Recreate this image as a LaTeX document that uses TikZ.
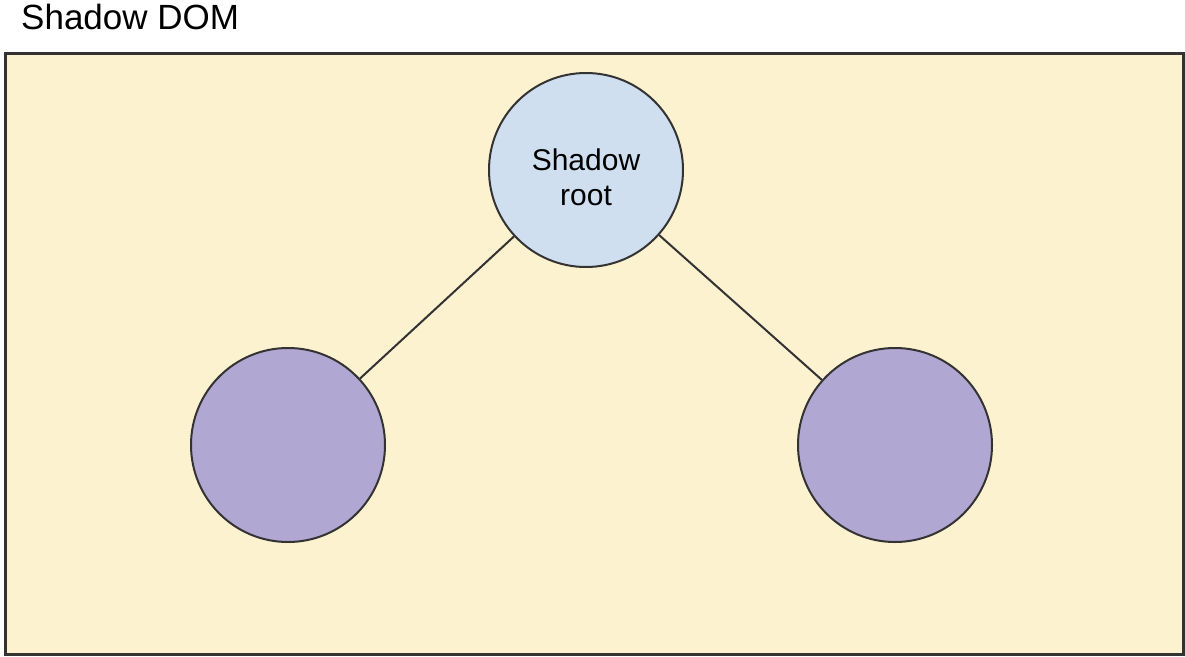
\documentclass[tikz,border=0pt]{standalone}
\usepackage{fontspec}
\setmainfont{Liberation Sans}
\definecolor{panel}{HTML}{FDF2D0}
\definecolor{rootfill}{HTML}{D0DFEF}
\definecolor{leaffill}{HTML}{B1A7D3}
\definecolor{edge}{HTML}{333333}
\begin{document}
\begin{tikzpicture}[x=1pt,y=-1pt,
  treenode/.style={circle,draw=edge,line width=2pt,minimum size=194pt,inner sep=0pt},
  link/.style={draw=edge,line width=2pt}]
\useasboundingbox (0,0) rectangle (1185,656);
\node[anchor=base west,inner sep=0pt,font=\fontsize{35}{40}\selectfont] (title) at (21,29) {Shadow DOM};
\node[draw=edge,line width=3pt,fill=panel,minimum width=1178pt,minimum height=601pt,inner sep=0pt,anchor=north west] (panel) at (3.5,51.5) {};
\node[treenode,fill=rootfill] (root) at (586,170) {};
\node[align=center,inner sep=0pt,font=\fontsize{30}{35}\selectfont] (rootlabel) at ([yshift=-7pt]root.center) {Shadow\\root};
\node[treenode,fill=leaffill] (left) at (288,445) {};
\node[treenode,fill=leaffill] (right) at (895,445) {};
\draw[link] (root) -- (left);
\draw[link] (root) -- (right);
\end{tikzpicture}
\end{document}
